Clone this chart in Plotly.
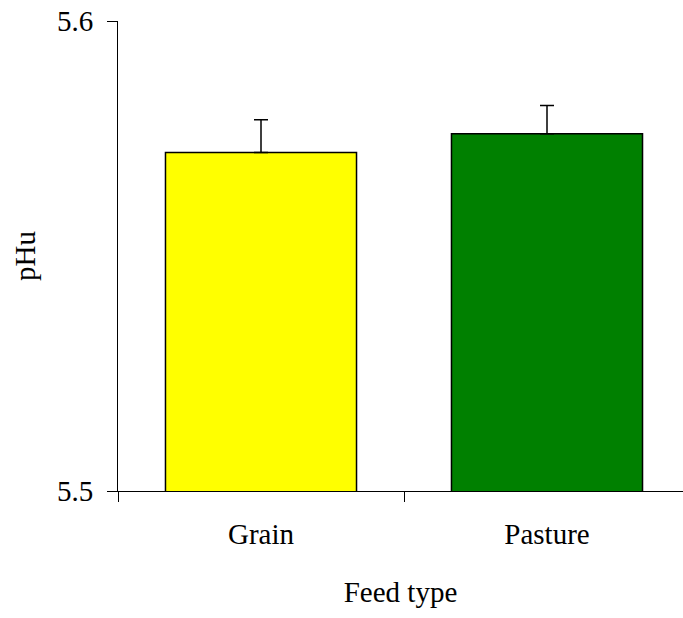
import plotly.graph_objects as go

# Mean ultimate pH by feed type, with standard error
feed_types = ["Grain", "Pasture"]
phu_mean = [5.572, 5.576]
phu_se = [0.007, 0.006]
bar_colors = ["#FFFF00", "#008000"]

FONT = "Liberation Serif, Times New Roman, serif"

fig = go.Figure(
    go.Bar(
        x=feed_types,
        y=phu_mean,
        width=0.668,
        marker=dict(color=bar_colors, line=dict(color="black", width=1.5)),
        error_y=dict(
            type="data",
            symmetric=False,
            array=phu_se,
            arrayminus=[0] * len(phu_se),
            color="black",
            thickness=1.5,
            width=7,
        ),
    )
)

fig.update_layout(
    width=683,
    height=618,
    margin=dict(l=118, r=0, t=21, b=127),
    paper_bgcolor="white",
    plot_bgcolor="white",
    showlegend=False,
    font=dict(family=FONT, size=29, color="black"),
)

fig.update_xaxes(
    type="category",
    range=[-0.5, -0.5 + 565 / 286],
    showline=True,
    linecolor="black",
    linewidth=1,
    ticks="outside",
    tickson="boundaries",
    ticklen=10,
    tickcolor="black",
    tickwidth=1,
    showgrid=False,
    ticklabelstandoff=17,
    tickfont=dict(family=FONT, size=29),
    title=dict(text="Feed type", font=dict(family=FONT, size=29), standoff=32),
)

fig.update_yaxes(
    range=[5.5, 5.6],
    tickvals=[5.5, 5.6],
    ticktext=["5.5", "5.6"],
    showline=True,
    linecolor="black",
    linewidth=1,
    ticks="outside",
    ticklen=10,
    tickcolor="black",
    tickwidth=1,
    showgrid=False,
    zeroline=False,
    ticklabelstandoff=8,
    tickfont=dict(family=FONT, size=29),
    title=dict(text="pHu", font=dict(family=FONT, size=29), standoff=12),
)

fig.write_html("out.html")
